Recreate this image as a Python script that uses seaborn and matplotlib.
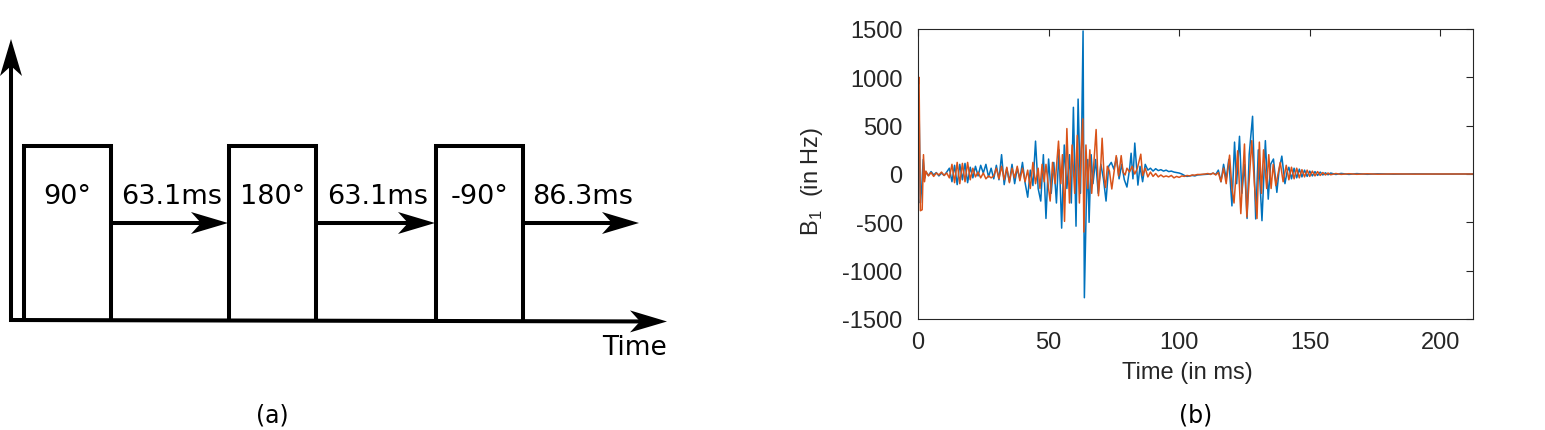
import numpy as np
import pandas as pd
import seaborn as sns
import matplotlib.pyplot as plt

sns.set_theme(style='white')
plt.rcParams['font.family'] = ['DejaVu Sans']
plt.rcParams['text.color'] = 'black'
plt.rcParams['mathtext.fontset'] = 'custom'
plt.rcParams['mathtext.rm'] = 'Liberation Sans'

# ---- data ----
pulse_labels = ['90°', '180°', '-90°']
delay_labels = ['63.1ms', '63.1ms', '86.3ms']
delays_ms = [63.1, 63.1, 86.3]

x_ticks = [0, 50, 100, 150, 200]
y_ticks = [-1500, -1000, -500, 0, 500, 1000, 1500]

# B1 waveform (time in ms, amplitude in Hz)
t_blue = [0, 0.35, 0.9, 1.4, 2.0, 2.6, 3, 4, 5, 6, 7, 8, 9, 10, 11,
          12, 13, 14, 15, 16, 17, 18, 19, 20, 21, 22,
          23, 24, 25, 26, 27, 28, 29, 30,
          31, 32, 33, 34, 35, 36, 37, 38, 39, 40,
          41, 42, 43, 44, 45, 46, 47, 48, 49, 50,
          51, 52, 53, 54, 55, 56, 57, 58, 58.7, 59.5, 60.5, 61.3, 62.2, 62.7,
          63.2, 63.7, 64.4, 65, 65.5, 66.3, 67, 68, 69, 70, 71, 72, 73, 74, 75,
          76, 77, 78, 79, 80, 81, 81.6, 82.3, 83, 84.2, 85, 86, 87,
          88, 89, 90, 91, 92, 93, 94, 95, 96, 97, 98, 99, 100, 101, 102, 103,
          104, 105, 106, 107, 108, 110, 112, 113, 114, 115, 116, 117, 118, 119,
          120.2, 121.2, 122, 123.1, 124, 125, 126, 126.8, 128.1, 129.3, 130.3,
          131.7, 133, 134.1, 135, 136.1, 137.4, 138.3, 139.3, 140.5, 141.3, 142,
          143, 144, 145, 146, 147, 148, 149, 150, 151, 152, 153, 154, 155, 156,
          157, 158, 160, 162, 165, 168, 172, 176, 182, 190, 200, 212.5]
b_blue = [700, 800, -300, -150, 150, -40, 20, -15, 25, -10, 15, -20, 10, -15, 20,
          60, -80, 90, -110, 100, -60, 110, -90, 70, -40, 80,
          -20, 90, 10, 100, -30, 60, -50, 90,
          -60, 200, -110, 60, -80, 100, -100, 60, -50, 120,
          -90, -240, 40, -120, 340, -150, -280, 200, -460, 155,
          -200, 120, -300, 250, -560, 300, -150, 200, -300, 690, -540, 775, -200, 500,
          1480, -1280, -360, 150, -500, 200, -100, 150, -200, 100, -50, -280, 80, 120, 50,
          170, -50, 100, -60, -135, 50, 215, -50, 320, -115, 80, -80, 100,
          40, 60, 30, 55, 35, 45, 30, 40, 25, 30, 20, 15, 10, 0, -15, -25,
          -20, -15, -20, -10, -8, -5, 0, 8, -5, 40, -80, 100, -50, 150,
          -330, 330, -100, 390, -200, 100, -460, 200, 597, -465, 250,
          -483, 345, -260, 100, 155, -190, 50, 185, -100, 20, 70,
          -50, 60, -40, 50, -30, 40, -25, 30, -20, 25, -15, 20, -10, 12,
          -8, 10, -5, 6, -4, 4, -3, 2, -2, 1, -1, 0]

t_orange = [0, 0.4, 0.9, 1.6, 2.1, 2.5, 3, 4, 5, 6, 7, 8, 9, 10, 11,
            12, 13, 14, 15, 16, 17, 18, 19, 20, 21, 22,
            23, 24, 25, 26, 27, 28, 29, 30,
            31, 32, 33, 34, 35, 36, 37, 38, 39, 40,
            41, 42, 43, 44, 45, 46, 46.7, 47.5, 48.3, 49, 50, 50.6, 51.5, 52.5,
            53.8, 54.7, 55.3, 56.1, 57, 58, 59, 60, 61, 61.8, 62.4, 63.1, 63.5,
            64.3, 65, 65.8, 66.5, 67.3, 68.2, 69.1, 70, 70.5, 71.3, 71.8, 72.5,
            73.3, 74.2, 75.9, 76.8, 77.8, 78.5, 79.3, 80, 81, 82, 83, 84, 85.3,
            86, 87, 88, 89, 90, 91, 92, 93, 94, 95, 96, 97, 98, 99, 100, 101,
            102, 103, 104, 105, 106, 107, 108, 110, 111, 112, 113, 114, 115,
            116, 117, 118, 119.3, 120.2, 121, 122.4, 123.6, 125, 125.9, 127.8,
            128.8, 129.8, 130.7, 131.5, 132.3, 133.5, 134.3, 135.2, 136, 137,
            138.7, 139.8, 141, 142, 143, 144, 145, 146, 147, 148, 149, 150, 151,
            152, 153, 154, 155, 156, 157, 158, 160, 162, 165, 168, 172, 176, 182,
            190, 200, 212.5]
b_orange = [900, 1000, -380, -370, 200, -80, 30, -20, 15, -25, 10, -10, 20, -15, 10,
            -40, 100, -90, 120, -100, 110, -80, 120, -60, 60, -30,
            20, -40, 10, -50, -20, -40, -20, 60,
            -50, 80, -60, 70, -90, 60, -40, 80, -70, 60,
            -80, 40, -150, 120, -100, 60, -150, 100, -80, 100, -150, -280, 120, -100,
            340, -100, 200, -490, 470, -300, 300, -200, 400, -300, 200, 570, -600,
            300, -150, 250, -200, 100, 460, -225, 100, 370, -50, -140, 80,
            30, -155, 190, -20, 190, 20, -10, 60, 20, 80, 0, 60, 205,
            -17, 60, -30, 20, -25, 5, -30, -10, -30, -20, -30, -15, -40, -25, -35, -20,
            -25, -15, -20, -10, -12, -5, -5, 0, 5, -5, 10, -10, 15,
            -80, 60, -100, 195, -150, -300, 240, -410, 310, -445, 345,
            -100, -460, 330, -200, 250, -150, 200, -150, 100, -120,
            120, -80, 90, -60, 70, -50, 60, -40, 45, -30, 40, -25, 30,
            -20, 25, -15, 15, -10, 10, -8, 5, -4, 3, -3, 2, -2, 1,
            -1, 0, 0]

df = pd.concat([
    pd.DataFrame({'t': t_blue, 'b1': b_blue, 'series': 'x'}),
    pd.DataFrame({'t': t_orange, 'b1': b_orange, 'series': 'y'}),
])

W, H = 1545, 431
fig = plt.figure(figsize=(W / 100, H / 100), dpi=100)

# ---- panel (a): pulse sequence diagram, drawn in pixel space ----
ax_a = fig.add_axes([0, 0, 1, 1])
ax_a.set_xlim(0, W)
ax_a.set_ylim(H, 0)
ax_a.axis('off')

LW = 2.9


def arrow(ax, x0, y0, x1, y1, head_len=37, head_w=22, notch=10):
    d = np.array([x1 - x0, y1 - y0], dtype=float)
    u = d / np.hypot(*d)
    n = np.array([-u[1], u[0]])
    tip = np.array([x1, y1], dtype=float)
    back = tip - u * head_len
    inner = tip - u * (head_len - notch)
    ax.plot([x0, inner[0]], [y0, inner[1]], color='black', lw=LW,
            solid_capstyle='butt')
    pts = np.array([tip, back + n * head_w / 2, inner, back - n * head_w / 2])
    ax.fill(pts[:, 0], pts[:, 1], color='black', lw=0)


base_y, top_y, arrow_y = 321, 147, 224
box_w = 87
box_left = [24, 229, 436]
arrow_end = [228, 435, 639]

arrow(ax_a, 11, base_y + 2, 11, 40)
arrow(ax_a, 9, base_y, 667, base_y + 1.5)
for i, lab in enumerate(pulse_labels):
    l, r = box_left[i], box_left[i] + box_w
    ax_a.plot([l, l, r, r], [base_y, top_y, top_y, base_y], color='black',
              lw=LW, solid_joinstyle='miter')
    ax_a.text((l + r) / 2, 197, lab, fontsize=19.5, color='black',
              ha='center', va='center')
    arrow(ax_a, r, arrow_y, arrow_end[i], arrow_y)
    ax_a.text((r + arrow_end[i]) / 2 + 2, 197, delay_labels[i], fontsize=19.5,
              color='black', ha='center', va='center')
ax_a.text(667, 348, 'Time', fontsize=19, color='black', ha='right', va='center')

# ---- panel (b): B1 waveform ----
ax_b = fig.add_axes([918 / W, 1 - 320 / H, 555 / W, 290 / H])
sns.lineplot(data=df, x='t', y='b1', hue='series',
             palette={'x': '#0072BD', 'y': '#D95319'},
             estimator=None, sort=False, legend=False, lw=1.1, ax=ax_b)
ax_b.set_xlim(0, sum(delays_ms))
ax_b.set_ylim(-1500, 1500)
ax_b.set_xticks(x_ticks)
ax_b.set_yticks(y_ticks)
ax_b.set_xticklabels([str(v) for v in x_ticks], family='Liberation Sans')
ax_b.set_yticklabels([str(v) for v in y_ticks], family='Liberation Sans')
ax_b.tick_params(direction='in', top=True, right=True, length=5, width=0.8,
                 color='#262626', labelcolor='#262626', labelsize=17)
ax_b.tick_params(axis='y', pad=11)
ax_b.tick_params(axis='x', pad=9)
for s in ax_b.spines.values():
    s.set_color('#262626')
    s.set_linewidth(0.8)
ax_b.set_xlabel('')
ax_b.set_ylabel('')

fig.text(1187 / W, 1 - 373 / H, 'Time (in ms)', family='Liberation Sans',
         fontsize=17, color='#262626', ha='center', va='center')
fig.text(812 / W, 1 - 181 / H, r'B$_\mathregular{1}$  (in Hz)',
         family='Liberation Sans', fontsize=17, color='#262626',
         rotation=90, ha='center', va='center')

fig.text(272 / W, 1 - 416 / H, '(a)', fontsize=17, color='black',
         ha='center', va='center')
fig.text(1196 / W, 1 - 416 / H, '(b)', fontsize=17, color='black',
         ha='center', va='center')

fig.savefig('out.png', dpi=100, facecolor='white')
